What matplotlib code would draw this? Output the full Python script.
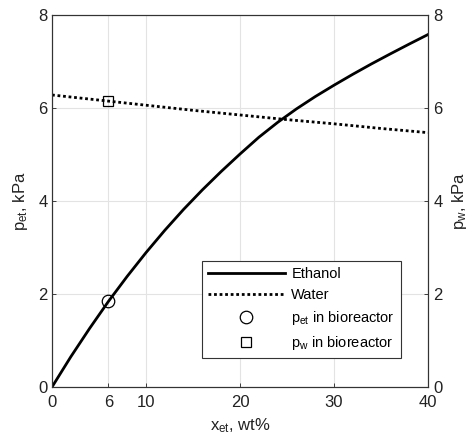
import matplotlib
matplotlib.use("Agg")
import matplotlib.pyplot as plt

plt.rcParams['font.family'] = ['Liberation Sans', 'DejaVu Sans']
plt.rcParams['mathtext.fontset'] = 'custom'
plt.rcParams['mathtext.rm'] = 'Liberation Sans'
plt.rcParams['mathtext.it'] = 'Liberation Sans'

# Data
x_et = [0, 2, 4, 6, 8, 10, 12, 14, 16, 18, 20, 22, 24, 26, 28, 30, 32, 34, 36, 38, 40]
p_ethanol = [0, 0.65, 1.26, 1.84, 2.38, 2.89, 3.37, 3.82, 4.24, 4.635, 5.01,
             5.37, 5.69, 5.98, 6.245, 6.49, 6.725, 6.95, 7.165, 7.375, 7.58]
x_w = [0, 5, 10, 15, 20, 25, 30, 35, 40]
p_water = [6.28, 6.17, 6.06, 5.95, 5.85, 5.75, 5.66, 5.56, 5.47]
x_bio = [6]
p_et_bio = [1.85]
p_w_bio = [6.14]
xticks = [0, 6, 10, 20, 30, 40]
yticks = [0, 2, 4, 6, 8]

fig = plt.figure(figsize=(4.71, 4.44), dpi=100)
ax = fig.add_axes([52/471, 1-387/444, 376/471, 372/444])
ax2 = ax.twinx()

l1, = ax.plot(x_et, p_ethanol, color='black', lw=2.0, label='Ethanol',
              solid_joinstyle='round')
l2, = ax2.plot(x_w, p_water, color='black', lw=2.0, ls=(0, (1, 1)), label='Water')
m1, = ax.plot(x_bio, p_et_bio, ls='none', marker='o', ms=9, mfc='none',
              mec='black', mew=0.9, label=r'p$_{\rm et}$ in bioreactor')
m2, = ax2.plot(x_bio, p_w_bio, ls='none', marker='s', ms=6.5, mfc='none',
               mec='black', mew=0.9, label=r'p$_{\rm w}$ in bioreactor')

for a in (ax, ax2):
    a.set_xlim(0, 40)
    a.set_ylim(0, 8)
    a.set_yticks(yticks)
    a.tick_params(direction='in', length=3, width=0.6, labelsize=12, colors='#222222')
ax.set_xticks(xticks)
ax.tick_params(axis='x', pad=6)
ax.tick_params(axis='y', pad=3)
ax2.tick_params(axis='y', pad=4)
ax.grid(True, color='#e3e3e3', lw=0.8)
ax.set_axisbelow(True)
for a in (ax, ax2):
    for s in a.spines.values():
        s.set_color('#333333')
        s.set_linewidth(0.8)

ax.set_xlabel(r'x$_{\rm et}$, wt%', fontsize=12, color='#222222', labelpad=4)
ax.set_ylabel(r'p$_{\rm et}$, kPa', fontsize=12, color='#222222', labelpad=6)
ax2.set_ylabel(r'p$_{\rm w}$, kPa', fontsize=12, color='#222222', labelpad=5)

x0 = 201.7/471
y1 = 1-261/444
leg = fig.legend(handles=[l1, l2, m1, m2], loc='upper left',
                 bbox_to_anchor=(x0, y1), bbox_transform=fig.transFigure,
                 borderaxespad=0, fontsize=10.5, handlelength=5.3,
                 handletextpad=0.45, labelspacing=0.48, fancybox=False,
                 framealpha=1, edgecolor='#333333', borderpad=0.4)
leg.get_frame().set_linewidth(0.8)

fig.savefig('out.png', dpi=100)
